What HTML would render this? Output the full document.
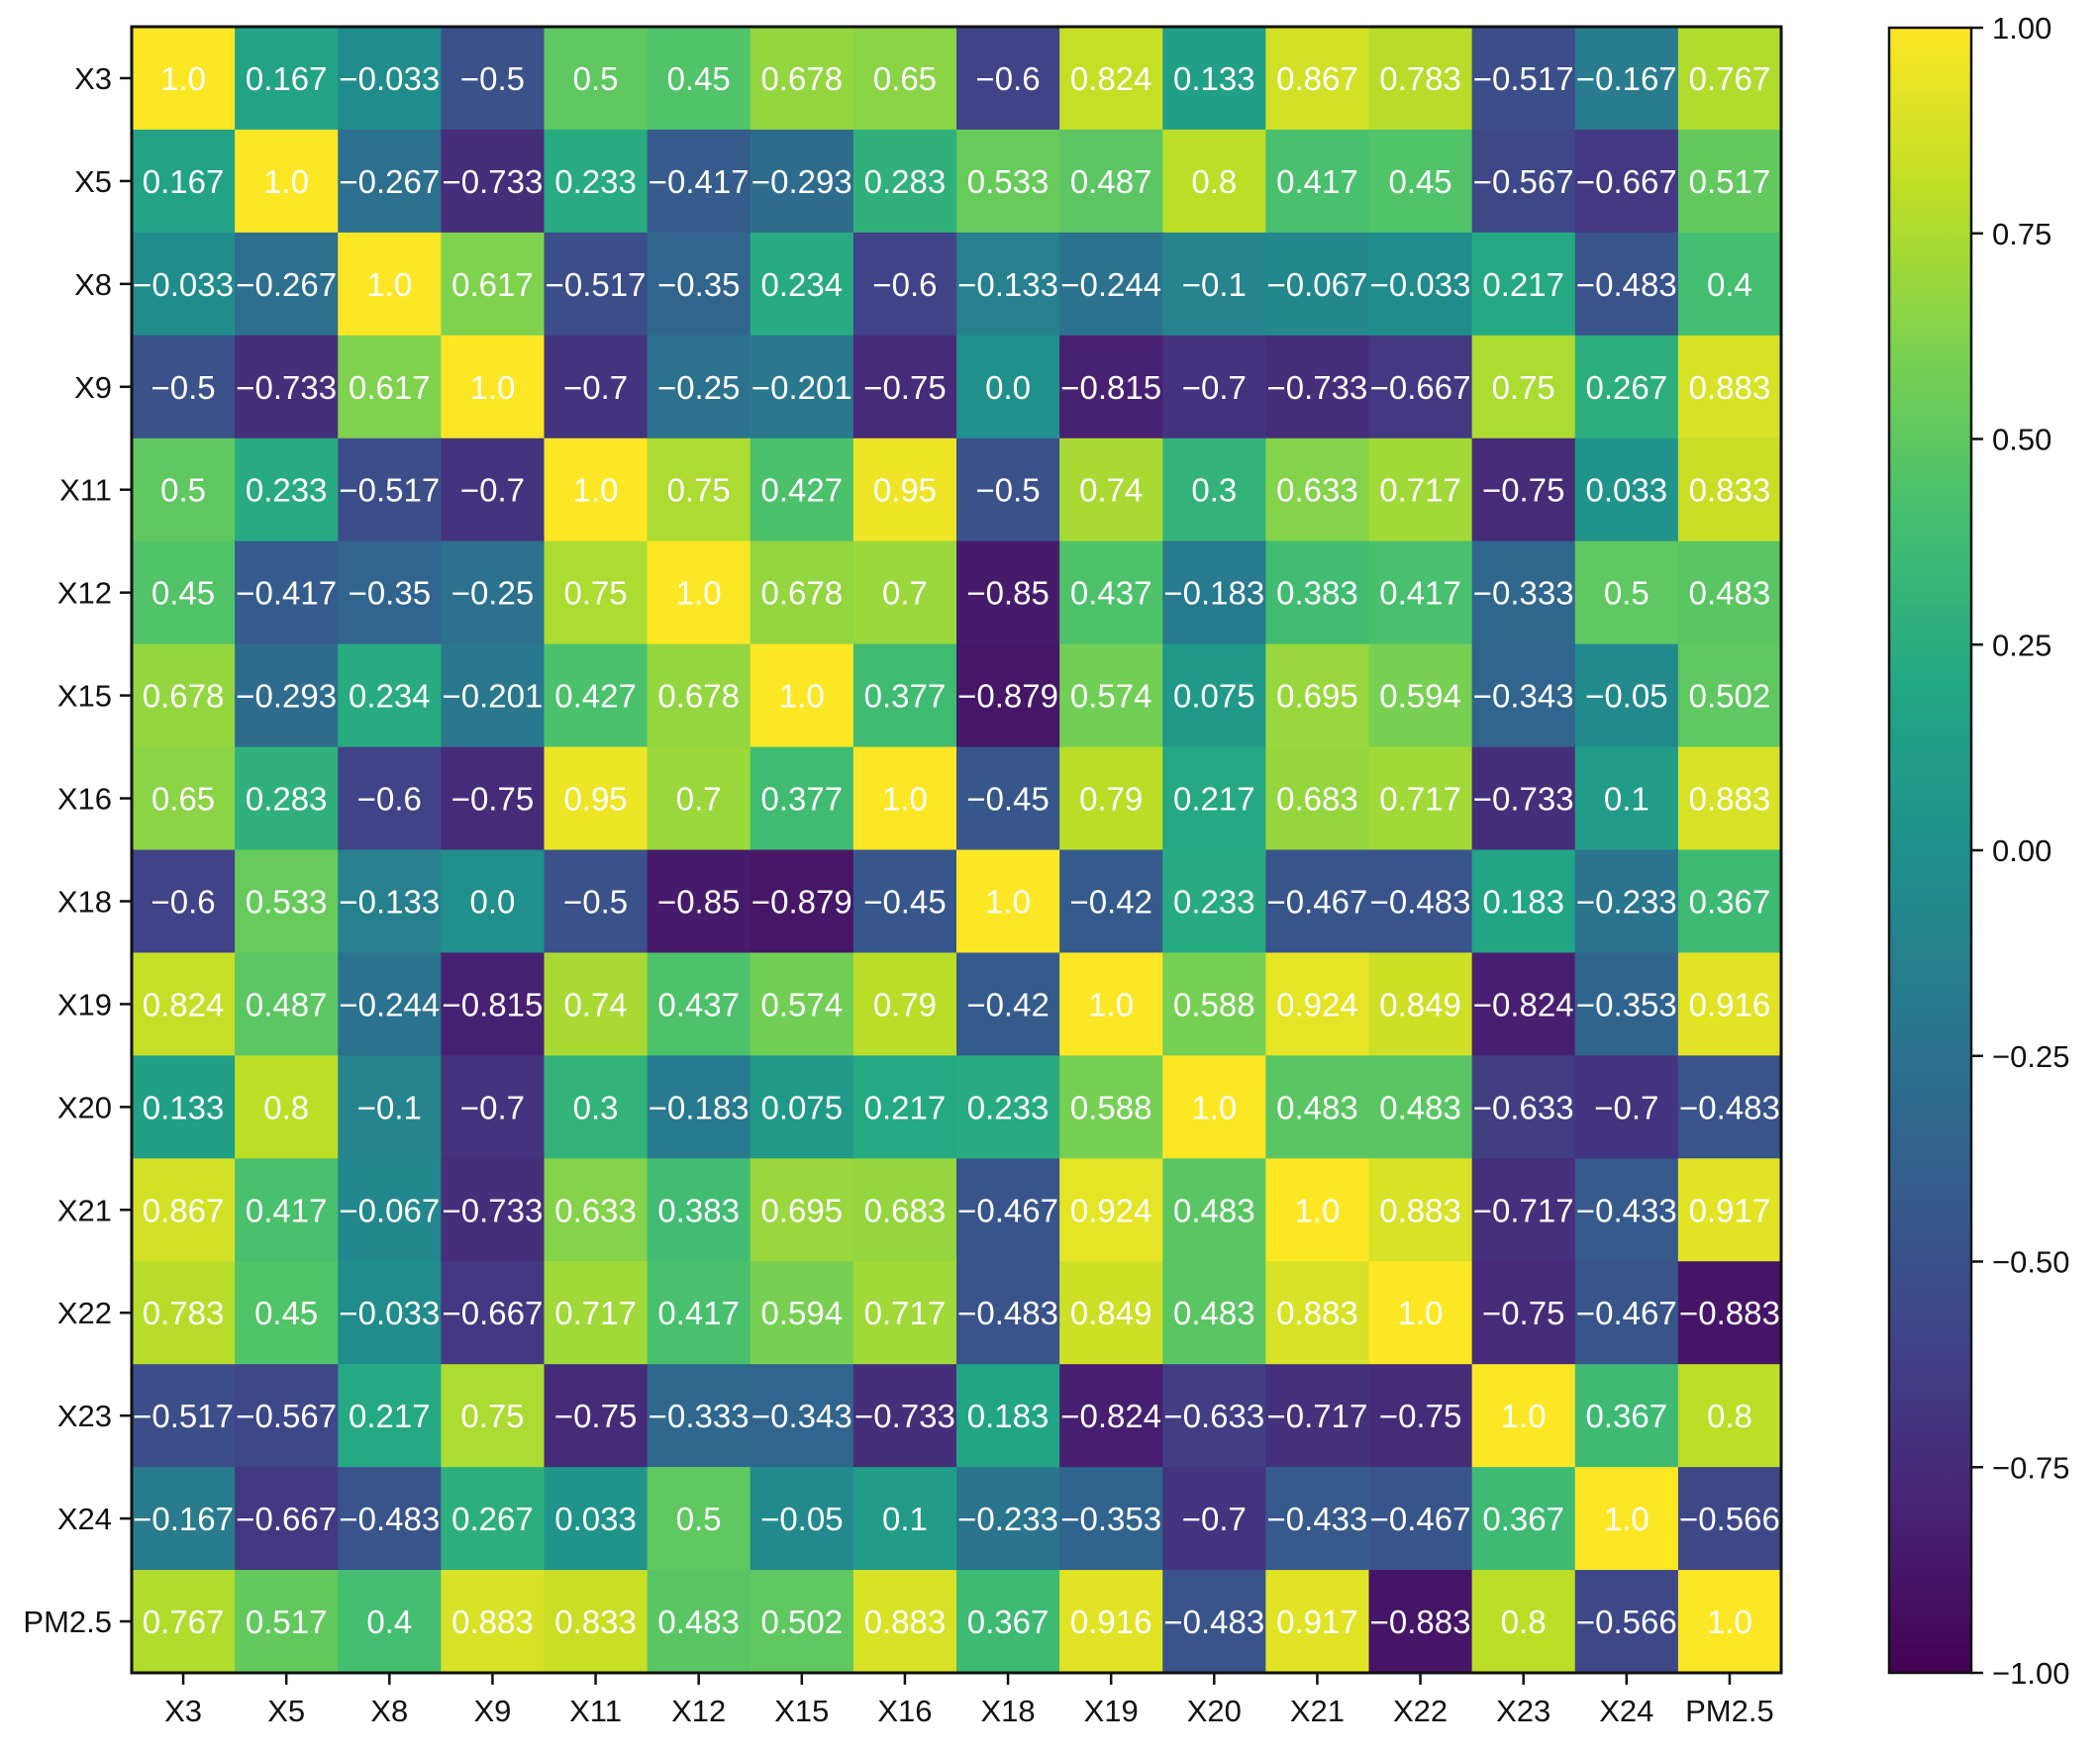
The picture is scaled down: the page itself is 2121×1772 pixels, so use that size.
<!DOCTYPE html>
<html><head><meta charset="utf-8"><style>
html,body{margin:0;padding:0;background:#fff;width:2121px;height:1772px;overflow:hidden}
svg text{font-family:"Liberation Sans","Noto Sans CJK SC",sans-serif}
</style></head><body>
<svg id="chart" width="2121" height="1772" xmlns="http://www.w3.org/2000/svg"></svg>
<script>
const labels=["X3","X5","X8","X9","X11","X12","X15","X16","X18","X19","X20","X21","X22","X23","X24","PM2.5"];
const rowX3=[1.0,0.167,-0.033,-0.5,0.5,0.45,0.678,0.65,-0.6,0.824,0.133,0.867,0.783,-0.517,-0.167,0.767];
const rowX5=[0.167,1.0,-0.267,-0.733,0.233,-0.417,-0.293,0.283,0.533,0.487,0.8,0.417,0.45,-0.567,-0.667,0.517];
const rowX8=[-0.033,-0.267,1.0,0.617,-0.517,-0.35,0.234,-0.6,-0.133,-0.244,-0.1,-0.067,-0.033,0.217,-0.483,0.4];
const rowX9=[-0.5,-0.733,0.617,1.0,-0.7,-0.25,-0.201,-0.75,0.0,-0.815,-0.7,-0.733,-0.667,0.75,0.267,0.883];
const rowX11=[0.5,0.233,-0.517,-0.7,1.0,0.75,0.427,0.95,-0.5,0.74,0.3,0.633,0.717,-0.75,0.033,0.833];
const rowX12=[0.45,-0.417,-0.35,-0.25,0.75,1.0,0.678,0.7,-0.85,0.437,-0.183,0.383,0.417,-0.333,0.5,0.483];
const rowX15=[0.678,-0.293,0.234,-0.201,0.427,0.678,1.0,0.377,-0.879,0.574,0.075,0.695,0.594,-0.343,-0.05,0.502];
const rowX16=[0.65,0.283,-0.6,-0.75,0.95,0.7,0.377,1.0,-0.45,0.79,0.217,0.683,0.717,-0.733,0.1,0.883];
const rowX18=[-0.6,0.533,-0.133,0.0,-0.5,-0.85,-0.879,-0.45,1.0,-0.42,0.233,-0.467,-0.483,0.183,-0.233,0.367];
const rowX19=[0.824,0.487,-0.244,-0.815,0.74,0.437,0.574,0.79,-0.42,1.0,0.588,0.924,0.849,-0.824,-0.353,0.916];
const rowX20=[0.133,0.8,-0.1,-0.7,0.3,-0.183,0.075,0.217,0.233,0.588,1.0,0.483,0.483,-0.633,-0.7,-0.483];
const rowX21=[0.867,0.417,-0.067,-0.733,0.633,0.383,0.695,0.683,-0.467,0.924,0.483,1.0,0.883,-0.717,-0.433,0.917];
const rowX22=[0.783,0.45,-0.033,-0.667,0.717,0.417,0.594,0.717,-0.483,0.849,0.483,0.883,1.0,-0.75,-0.467,-0.883];
const rowX23=[-0.517,-0.567,0.217,0.75,-0.75,-0.333,-0.343,-0.733,0.183,-0.824,-0.633,-0.717,-0.75,1.0,0.367,0.8];
const rowX24=[-0.167,-0.667,-0.483,0.267,0.033,0.5,-0.05,0.1,-0.233,-0.353,-0.7,-0.433,-0.467,0.367,1.0,-0.566];
const rowPM25=[0.767,0.517,0.4,0.883,0.833,0.483,0.502,0.883,0.367,0.916,-0.483,0.917,-0.883,0.8,-0.566,1.0];
const matrix=[rowX3,rowX5,rowX8,rowX9,rowX11,rowX12,rowX15,rowX16,rowX18,rowX19,rowX20,rowX21,rowX22,rowX23,rowX24,rowPM25];
const cbTicks=[1.0,0.75,0.5,0.25,0.0,-0.25,-0.5,-0.75,-1.0];

const NS="http://www.w3.org/2000/svg";
const svg=document.getElementById('chart');
const L=133,T=27,R=1799,B=1690;
const n=labels.length,cw=(R-L)/n,ch=(B-T)/n;
const vir=[[68,1,84],[72,35,116],[64,67,135],[52,94,141],[41,120,142],[32,144,140],[34,167,132],[68,190,112],[121,209,81],[189,222,38],[253,231,37]];
function color(v){let t=(v+1)/2;t=Math.max(0,Math.min(1,t));const p=t*(vir.length-1);const i=Math.min(vir.length-2,Math.floor(p));const f=p-i;
const c=vir[i].map((a,k)=>Math.round(a+(vir[i+1][k]-a)*f));return `rgb(${c})`;}
function fmt(v){let s=String(v);if(Number.isInteger(v))s=v.toFixed(1);return s.replace('-','\u2212');}
function el(tag,attrs,parent){const e=document.createElementNS(NS,tag);for(const k in attrs)e.setAttribute(k,attrs[k]);(parent||svg).appendChild(e);return e;}
const xs=i=>L+i*cw, ys=j=>T+j*ch;
const gCells=el('g',{});


matrix.forEach((row,j)=>row.forEach((v,i)=>{
 const r=el('rect',{x:xs(i),y:ys(j),width:cw+0.5,height:ch+0.5,fill:color(v)},gCells);
 
 
 const t=el('text',{x:xs(i)+cw/2,y:ys(j)+ch/2+12,'text-anchor':'middle','font-size':33,fill:'#fff'},gCells);
 
 
 t.textContent=fmt(v);
}));
const frame=el('rect',{x:L,y:T,width:R-L,height:B-T,fill:'none',stroke:'#111','stroke-width':3});


labels.forEach((lab,k)=>{
 const cy=ys(k)+ch/2,cx=xs(k)+cw/2;
 el('line',{x1:L-12,x2:L,y1:cy,y2:cy,stroke:'#111','stroke-width':2.5});
 const ty=el('text',{x:L-20,y:cy+11,'text-anchor':'end','font-size':31,fill:'#111'});
 
 
 ty.textContent=lab;
 el('line',{x1:cx,x2:cx,y1:B,y2:B+12,stroke:'#111','stroke-width':2.5});
 const tx=el('text',{x:cx,y:B+49,'text-anchor':'middle','font-size':31,fill:'#111'});
 
 
 tx.textContent=lab;
});
// colorbar
const CL=1908,CR=1991,CT=28,CB=1690;
const defs=el('defs',{});
const grad=el('linearGradient',{id:'vg',x1:0,y1:1,x2:0,y2:0},defs);
vir.forEach((c,i)=>el('stop',{offset:i/(vir.length-1),'stop-color':`rgb(${c})`},grad));
const cb=el('rect',{x:CL,y:CT,width:CR-CL,height:CB-CT,fill:'url(#vg)',stroke:'#111','stroke-width':2.5});


const cy=v=>CT+(1-v)/2*(CB-CT);
cbTicks.forEach(v=>{
 el('line',{x1:CR,x2:CR+12,y1:cy(v),y2:cy(v),stroke:'#111','stroke-width':2.5});
 const t=el('text',{x:CR+21,y:cy(v)+11,'font-size':31,fill:'#111'});
 
 
 t.textContent=v.toFixed(2).replace('-','\u2212');
});
</script>
</body></html>
